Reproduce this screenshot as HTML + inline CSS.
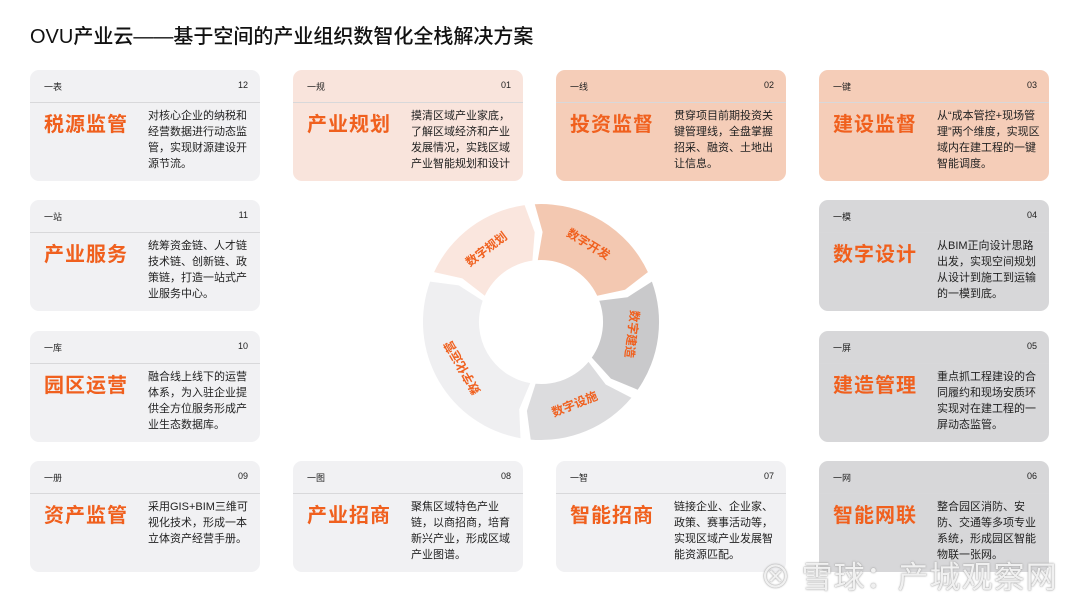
<!DOCTYPE html><html><head><meta charset="utf-8"><style>
body{margin:0;width:1080px;height:607px;background:#fff;font-family:"Liberation Sans","Noto Sans CJK SC",sans-serif;position:relative;overflow:hidden}
h1{position:absolute;left:30px;top:20px;margin:0;font-size:20px;font-weight:500;color:#111}
.c{position:absolute;width:230px;height:111px;border-radius:9px;background:#f1f1f3}
.c .h{position:absolute;left:14px;right:12px;top:10px;font-size:9px;color:#222;display:flex;justify-content:space-between}
.c .l{position:absolute;left:0;right:0;top:32px;border-top:1px solid #d8d8da}
.c .t{position:absolute;left:14px;top:38px;font-size:20px;font-weight:bold;color:#f0601e;letter-spacing:1px}
.c .d{position:absolute;left:118px;top:38px;width:104px;font-size:11px;line-height:16px;color:#222}
.p1{background:#f9e4dc}.p2{background:#f5cdb8}.g{background:#d7d7d9}
.wm{position:absolute;left:760px;top:552px;font-size:31px;color:rgba(255,255,255,.85);text-shadow:0 0 1px #999,0 0 2px #aaa;letter-spacing:1px}
</style></head><body>
<h1>OVU产业云——基于空间的产业组织数智化全栈解决方案</h1>

<div class="c" style="left:30px;top:70px"><div class="h"><span>一表</span><span>12</span></div><div class="l"></div><div class="t">税源监管</div><div class="d">对核心企业的纳税和经营数据进行动态监管，实现财源建设开源节流。</div></div>
<div class="c p1" style="left:293px;top:70px"><div class="h"><span>一规</span><span>01</span></div><div class="l"></div><div class="t">产业规划</div><div class="d">摸清区域产业家底，了解区域经济和产业发展情况，实践区域产业智能规划和设计</div></div>
<div class="c p2" style="left:556px;top:70px"><div class="h"><span>一线</span><span>02</span></div><div class="l"></div><div class="t">投资监督</div><div class="d">贯穿项目前期投资关键管理线，全盘掌握招采、融资、土地出让信息。</div></div>
<div class="c p2" style="left:819px;top:70px"><div class="h"><span>一键</span><span>03</span></div><div class="l"></div><div class="t">建设监督</div><div class="d">从“成本管控+现场管理”两个维度，实现区域内在建工程的一键智能调度。</div></div>

<div class="c" style="left:30px;top:200px"><div class="h"><span>一站</span><span>11</span></div><div class="l"></div><div class="t">产业服务</div><div class="d">统筹资金链、人才链技术链、创新链、政策链，打造一站式产业服务中心。</div></div>
<div class="c g" style="left:819px;top:200px"><div class="h"><span>一模</span><span>04</span></div><div class="l"></div><div class="t">数字设计</div><div class="d">从BIM正向设计思路出发，实现空间规划从设计到施工到运输的一模到底。</div></div>

<div class="c" style="left:30px;top:331px"><div class="h"><span>一库</span><span>10</span></div><div class="l"></div><div class="t">园区运营</div><div class="d">融合线上线下的运营体系，为入驻企业提供全方位服务形成产业生态数据库。</div></div>
<div class="c g" style="left:819px;top:331px"><div class="h"><span>一屏</span><span>05</span></div><div class="l"></div><div class="t">建造管理</div><div class="d">重点抓工程建设的合同履约和现场安质环实现对在建工程的一屏动态监管。</div></div>

<div class="c" style="left:30px;top:461px"><div class="h"><span>一册</span><span>09</span></div><div class="l"></div><div class="t">资产监管</div><div class="d">采用GIS+BIM三维可视化技术，形成一本立体资产经营手册。</div></div>
<div class="c" style="left:293px;top:461px"><div class="h"><span>一图</span><span>08</span></div><div class="l"></div><div class="t">产业招商</div><div class="d">聚焦区域特色产业链，以商招商，培育新兴产业，形成区域产业图谱。</div></div>
<div class="c" style="left:556px;top:461px"><div class="h"><span>一智</span><span>07</span></div><div class="l"></div><div class="t">智能招商</div><div class="d">链接企业、企业家、政策、赛事活动等，实现区域产业发展智能资源匹配。</div></div>
<div class="c g" style="left:819px;top:461px"><div class="h"><span>一网</span><span>06</span></div><div class="l"></div><div class="t">智能网联</div><div class="d">整合园区消防、安防、交通等多项专业系统，形成园区智能物联一张网。</div></div>

<svg id="ring" width="1080" height="607" style="position:absolute;left:0;top:0">
<g id="segs"></g>
<g font-size="12" fill="#f0601e" font-weight="bold" text-anchor="middle" dominant-baseline="middle">
<text transform="translate(487,250) rotate(-37)">数字规划</text>
<text transform="translate(588,245) rotate(31)">数字开发</text>
<text transform="translate(631,334) rotate(97)">数字建造</text>
<text transform="translate(575,405) rotate(-22)">数字设施</text>
<text transform="translate(463,367) rotate(240)">数字化运营</text>
</g></svg>
<div class="wm">⊗ 雪球：产城观察网</div>
<script>
var cx=541,cy=322,R=118,r=62;
var segs=[[100,200,"#efeff1"],[205,262,"#fae6de"],[267,335,"#f3c8b1"],[340,395,"#c9c9cb"],[400,455,"#dcdcde"]];
function pt(a,rad){a=a*Math.PI/180;return (cx+rad*Math.cos(a)).toFixed(1)+","+(cy+rad*Math.sin(a)).toFixed(1)}
var h="";segs.forEach(function(s){var a=s[0],b=s[1];var m=(b-a)>180?1:0;
h+='<path fill="'+s[2]+'" d="M'+pt(a,R)+' A'+R+','+R+' 0 '+m+' 1 '+pt(b,R)+' L'+pt(b+4,(R+r)/2)+' L'+pt(b,r)+' A'+r+','+r+' 0 '+m+' 0 '+pt(a,r)+' L'+pt(a+4,(R+r)/2)+' Z"/>';});
document.getElementById("segs").innerHTML=h;
</script>
</body></html>
